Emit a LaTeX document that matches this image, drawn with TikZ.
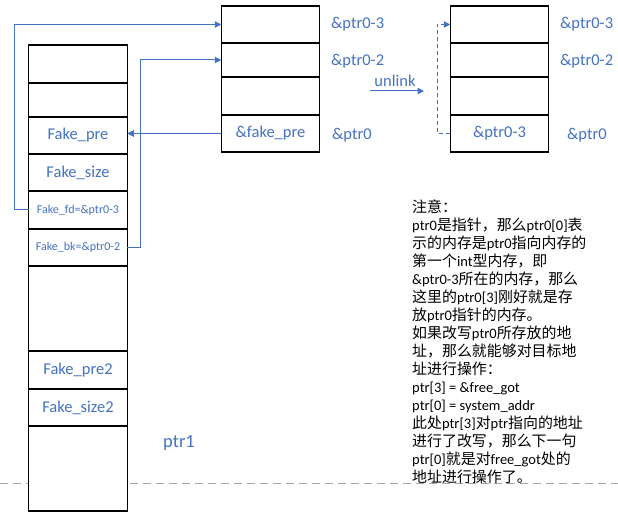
\documentclass[tikz,border=0pt]{standalone}
\usepackage{fontspec}
\setmainfont{Carlito}
\newfontfamily\cjk{Noto Sans CJK SC}[Scale=1.03]
\newcommand{\zh}[1]{{\cjk #1}}
\usetikzlibrary{%
		arrows.meta%
	}
\definecolor{chunkblue}{HTML}{4472C4}

\begin{document}
\begin{tikzpicture}[x=1pt, y=-1pt,
		cell/.style={draw=black, line width=1.1pt, fill=white, minimum width=98.5pt, inner sep=0pt, outer sep=0pt, text=chunkblue, font=\fontsize{16.5}{18}\selectfont},
		small cell/.style={cell, font=\fontsize{12}{14}\selectfont},
		addr/.style={anchor=west, inner sep=0pt, text=chunkblue, font=\fontsize{16.5}{18}\selectfont},
		link/.style={draw=chunkblue, line width=1pt, -{Triangle[length=6.5pt, width=6.5pt]}}
	]
	\useasboundingbox (0,0) rectangle (618,518);
	% divider
	\draw[color=black!35, line width=1pt, dash pattern=on 8pt off 5pt] (0,483) -- (618,483);
	% left chunk
	\node[cell, minimum height=38] (l1) at (78,64) {};
	\node[cell, minimum height=34] (l2) at (78,100) {};
	\node[cell, minimum height=37] (fpre) at (78,135.5) {Fake\_pre};
	\node[cell, minimum height=37] (fsize) at (78,172.5) {Fake\_size};
	\node[small cell, minimum height=38] (ffd) at (78,210) {Fake\_fd=\&ptr0-3};
	\node[small cell, minimum height=37] (fbk) at (78,247.5) {Fake\_bk=\&ptr0-2};
	\node[cell, minimum height=85] (l7) at (78,308.5) {};
	\node[cell, minimum height=38] (fpre2) at (78,370) {Fake\_pre2};
	\node[cell, minimum height=37] (fsize2) at (78,407.5) {Fake\_size2};
	\node[cell, minimum height=85] (l10) at (78,468.5) {};
	\node[addr, anchor=center, font=\fontsize{18.5}{20}\selectfont] (ptr1) at (179,443) {ptr1};
	% ptr0 before unlink
	\node[cell, minimum height=37] (m1) at (270.5,24.5) {};
	\node[cell, minimum height=34] (m2) at (270.5,60) {};
	\node[cell, minimum height=38] (m3) at (270.5,96) {};
	\node[cell, minimum height=37] (m4) at (270.5,133.5) {\&fake\_pre};
	\node[addr] (ma1) at (331,24) {\&ptr0-3};
	\node[addr] (ma2) at (331,61) {\&ptr0-2};
	\node[addr] (ma3) at (332,135) {\&ptr0};
	% ptr0 after unlink
	\node[cell, minimum height=37] (r1) at (499.5,24.5) {};
	\node[cell, minimum height=34] (r2) at (499.5,60) {};
	\node[cell, minimum height=38] (r3) at (499.5,96) {};
	\node[cell, minimum height=37] (r4) at (499.5,133.5) {\&ptr0-3};
	\node[addr] (ra1) at (560,24) {\&ptr0-3};
	\node[addr] (ra2) at (560,61) {\&ptr0-2};
	\node[addr] (ra3) at (567,135) {\&ptr0};
	% unlink
	\node[addr, anchor=center] (unlink) at (395,80.5) {unlink};
	\coordinate (ulA) at (370,91);
	\coordinate (ulB) at (424,91);
	\draw[link] (ulA) -- (ulB);
	% fd and bk
	\draw[link] (ffd.west) -- ++(-14,0) |- (m1.west);
	\draw[link] (fbk.east) -- ++(13,0) |- (m2.west);
	\draw[link] (m4.west) -- (m4.west -| fpre.east);
	\draw[link, dash pattern=on 4pt off 3pt] (r4.west) -- ++(-13,0) |- (r1.west);
	% note
	\node[anchor=north west, inner sep=0pt, align=left, font=\fontsize{14.5}{18}\selectfont] (note) at (412,199.5) {%
		\zh{注意：}\\
		ptr0\zh{是指针，那么}ptr0[0]\zh{表}\\
		\zh{示的内存是}ptr0\zh{指向内存的}\\
		\zh{第一个}int\zh{型内存，即}\\
		\&ptr0-3\zh{所在的内存，那么}\\
		\zh{这里的}ptr0[3]\zh{刚好就是存}\\
		\zh{放}ptr0\zh{指针的内存。}\\
		\zh{如果改写}ptr0\zh{所存放的地}\\
		\zh{址，那么就能够对目标地}\\
		\zh{址进行操作：}\\
		ptr[3] = \&free\_got\\
		ptr[0] = system\_addr\\
		\zh{此处}ptr[3]\zh{对}ptr\zh{指向的地址}\\
		\zh{进行了改写，那么下一句}\\
		ptr[0]\zh{就是对}free\_got\zh{处的}\\
		\zh{地址进行操作了。}};
\end{tikzpicture}
\end{document}
